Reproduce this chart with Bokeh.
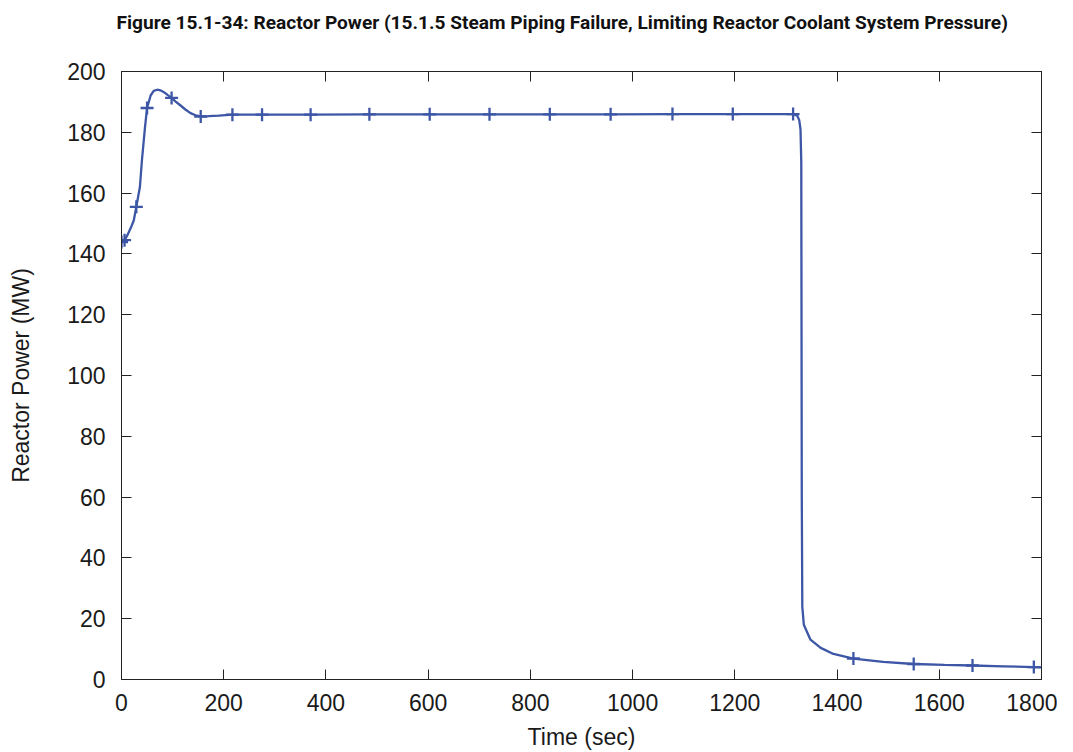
from bokeh.plotting import figure
from bokeh.models import Range1d, LinearAxis, FixedTicker, Title, CustomLabelingPolicy
from bokeh.embed import file_html
from bokeh.resources import INLINE

# Curve (time in sec, reactor power in MW)
time_s = [0, 6, 11, 18, 24, 29, 36, 40, 46, 50, 57, 63, 70, 76, 83, 90, 98, 106,
          115, 125, 135, 145, 155, 170, 190, 217, 275, 370, 485, 603, 720, 838,
          957, 1078, 1196, 1314, 1322, 1326, 1328.5, 1330, 1331, 1332, 1335, 1348,
          1368, 1393, 1432, 1490, 1550, 1610, 1665, 1725, 1785, 1800]
power_mw = [143.9, 144.5, 146, 148.5, 151, 155.5, 162, 170.8, 181.7, 188, 192.1,
            193.6, 194, 193.8, 193.2, 192.3, 191.3, 190.1, 188.9, 187.5, 186.3,
            185.6, 185.2, 185.3, 185.5, 185.8, 185.8, 185.8, 185.9, 185.9, 185.9,
            185.9, 185.9, 186, 186, 186, 185.5, 184, 181, 170, 60, 24, 18, 13.1,
            10.4, 8.4, 6.9, 5.8, 5.1, 4.8, 4.6, 4.35, 4.1, 4.0]

# Marker points
marker_t = [0, 6, 29, 50, 98, 155, 217, 275, 370, 485, 603, 720, 838, 957, 1078,
            1196, 1314, 1432, 1550, 1665, 1785]
marker_p = [143.9, 144.5, 155.5, 188, 191.3, 185.2, 185.8, 185.8, 185.8, 185.9,
            185.9, 185.9, 185.9, 185.9, 186, 186, 186, 6.9, 5.1, 4.6, 4.1]

x_ticks = [0, 200, 400, 600, 800, 1000, 1200, 1400, 1600, 1800]
y_ticks = [0, 20, 40, 60, 80, 100, 120, 140, 160, 180, 200]

title_text = ("Figure 15.1-34: Reactor Power (15.1.5 Steam Piping Failure, "
              "Limiting Reactor Coolant System Pressure)")

LINE = "#3d56a6"
AX = "#222222"
FONT = "'Liberation Sans', Arial, sans-serif"

p = figure(width=1057, height=752, output_backend="svg", toolbar_location=None,
           x_range=Range1d(0, 1800), y_range=Range1d(0, 200),
           min_border_left=121, min_border_right=16, min_border_top=71,
           min_border_bottom=72, background_fill_color="white",
           border_fill_color="white")
p.grid.visible = False
p.outline_line_color = AX
p.outline_line_width = 1

# trailing blank line lifts the title away from the frame
p.title = Title(text=title_text + "\n ",
                text_font="'Liberation Sans Narrow', 'Roboto', sans-serif",
                text_font_style="bold", text_font_size="19.1px", text_color="#111111",
                text_line_height=1.61, align="left", offset=-5, standoff=0)

for ax in (p.xaxis[0], p.yaxis[0]):
    ax.major_tick_in = 10
    ax.major_tick_out = 0
    ax.minor_tick_line_color = None
    ax.axis_line_color = AX
    ax.major_tick_line_color = AX
    ax.major_label_text_font = FONT
    ax.major_label_text_font_size = "23px"
    ax.major_label_text_color = "#1a1a1a"
    ax.axis_label_text_font = FONT
    ax.axis_label_text_font_size = "23px"
    ax.axis_label_text_font_style = "normal"
    ax.axis_label_text_color = "#1a1a1a"

p.xaxis[0].ticker = FixedTicker(ticks=x_ticks)
p.yaxis[0].ticker = FixedTicker(ticks=y_ticks)
p.xaxis[0].axis_label = "Time (sec)"
p.yaxis[0].axis_label = "Reactor Power (MW)"
p.xaxis[0].major_label_standoff = 14
p.yaxis[0].major_label_standoff = 16
p.xaxis[0].axis_label_standoff = 10
p.yaxis[0].axis_label_standoff = 30

no_labels = "const n = indices.size; for (let i = 0; i < n; i++) { indices.unset(i) } return indices"
top = LinearAxis(ticker=FixedTicker(ticks=x_ticks), major_tick_in=10, major_tick_out=0,
                 minor_tick_line_color=None, major_label_text_font_size="0px",
                 major_label_policy=CustomLabelingPolicy(code=no_labels),
                 axis_line_color=AX, major_tick_line_color=AX)
right = LinearAxis(ticker=FixedTicker(ticks=y_ticks), major_tick_in=10, major_tick_out=0,
                   minor_tick_line_color=None, major_label_text_font_size="0px",
                   major_label_policy=CustomLabelingPolicy(code=no_labels),
                   axis_line_color=AX, major_tick_line_color=AX)
p.add_layout(top, "above")
p.add_layout(right, "right")

p.line(time_s, power_mw, line_color=LINE, line_width=2.3)
p.scatter(marker_t, marker_p, marker="cross", size=13, line_color=LINE, line_width=2.3)

open("out.html", "w").write(file_html(p, INLINE))
